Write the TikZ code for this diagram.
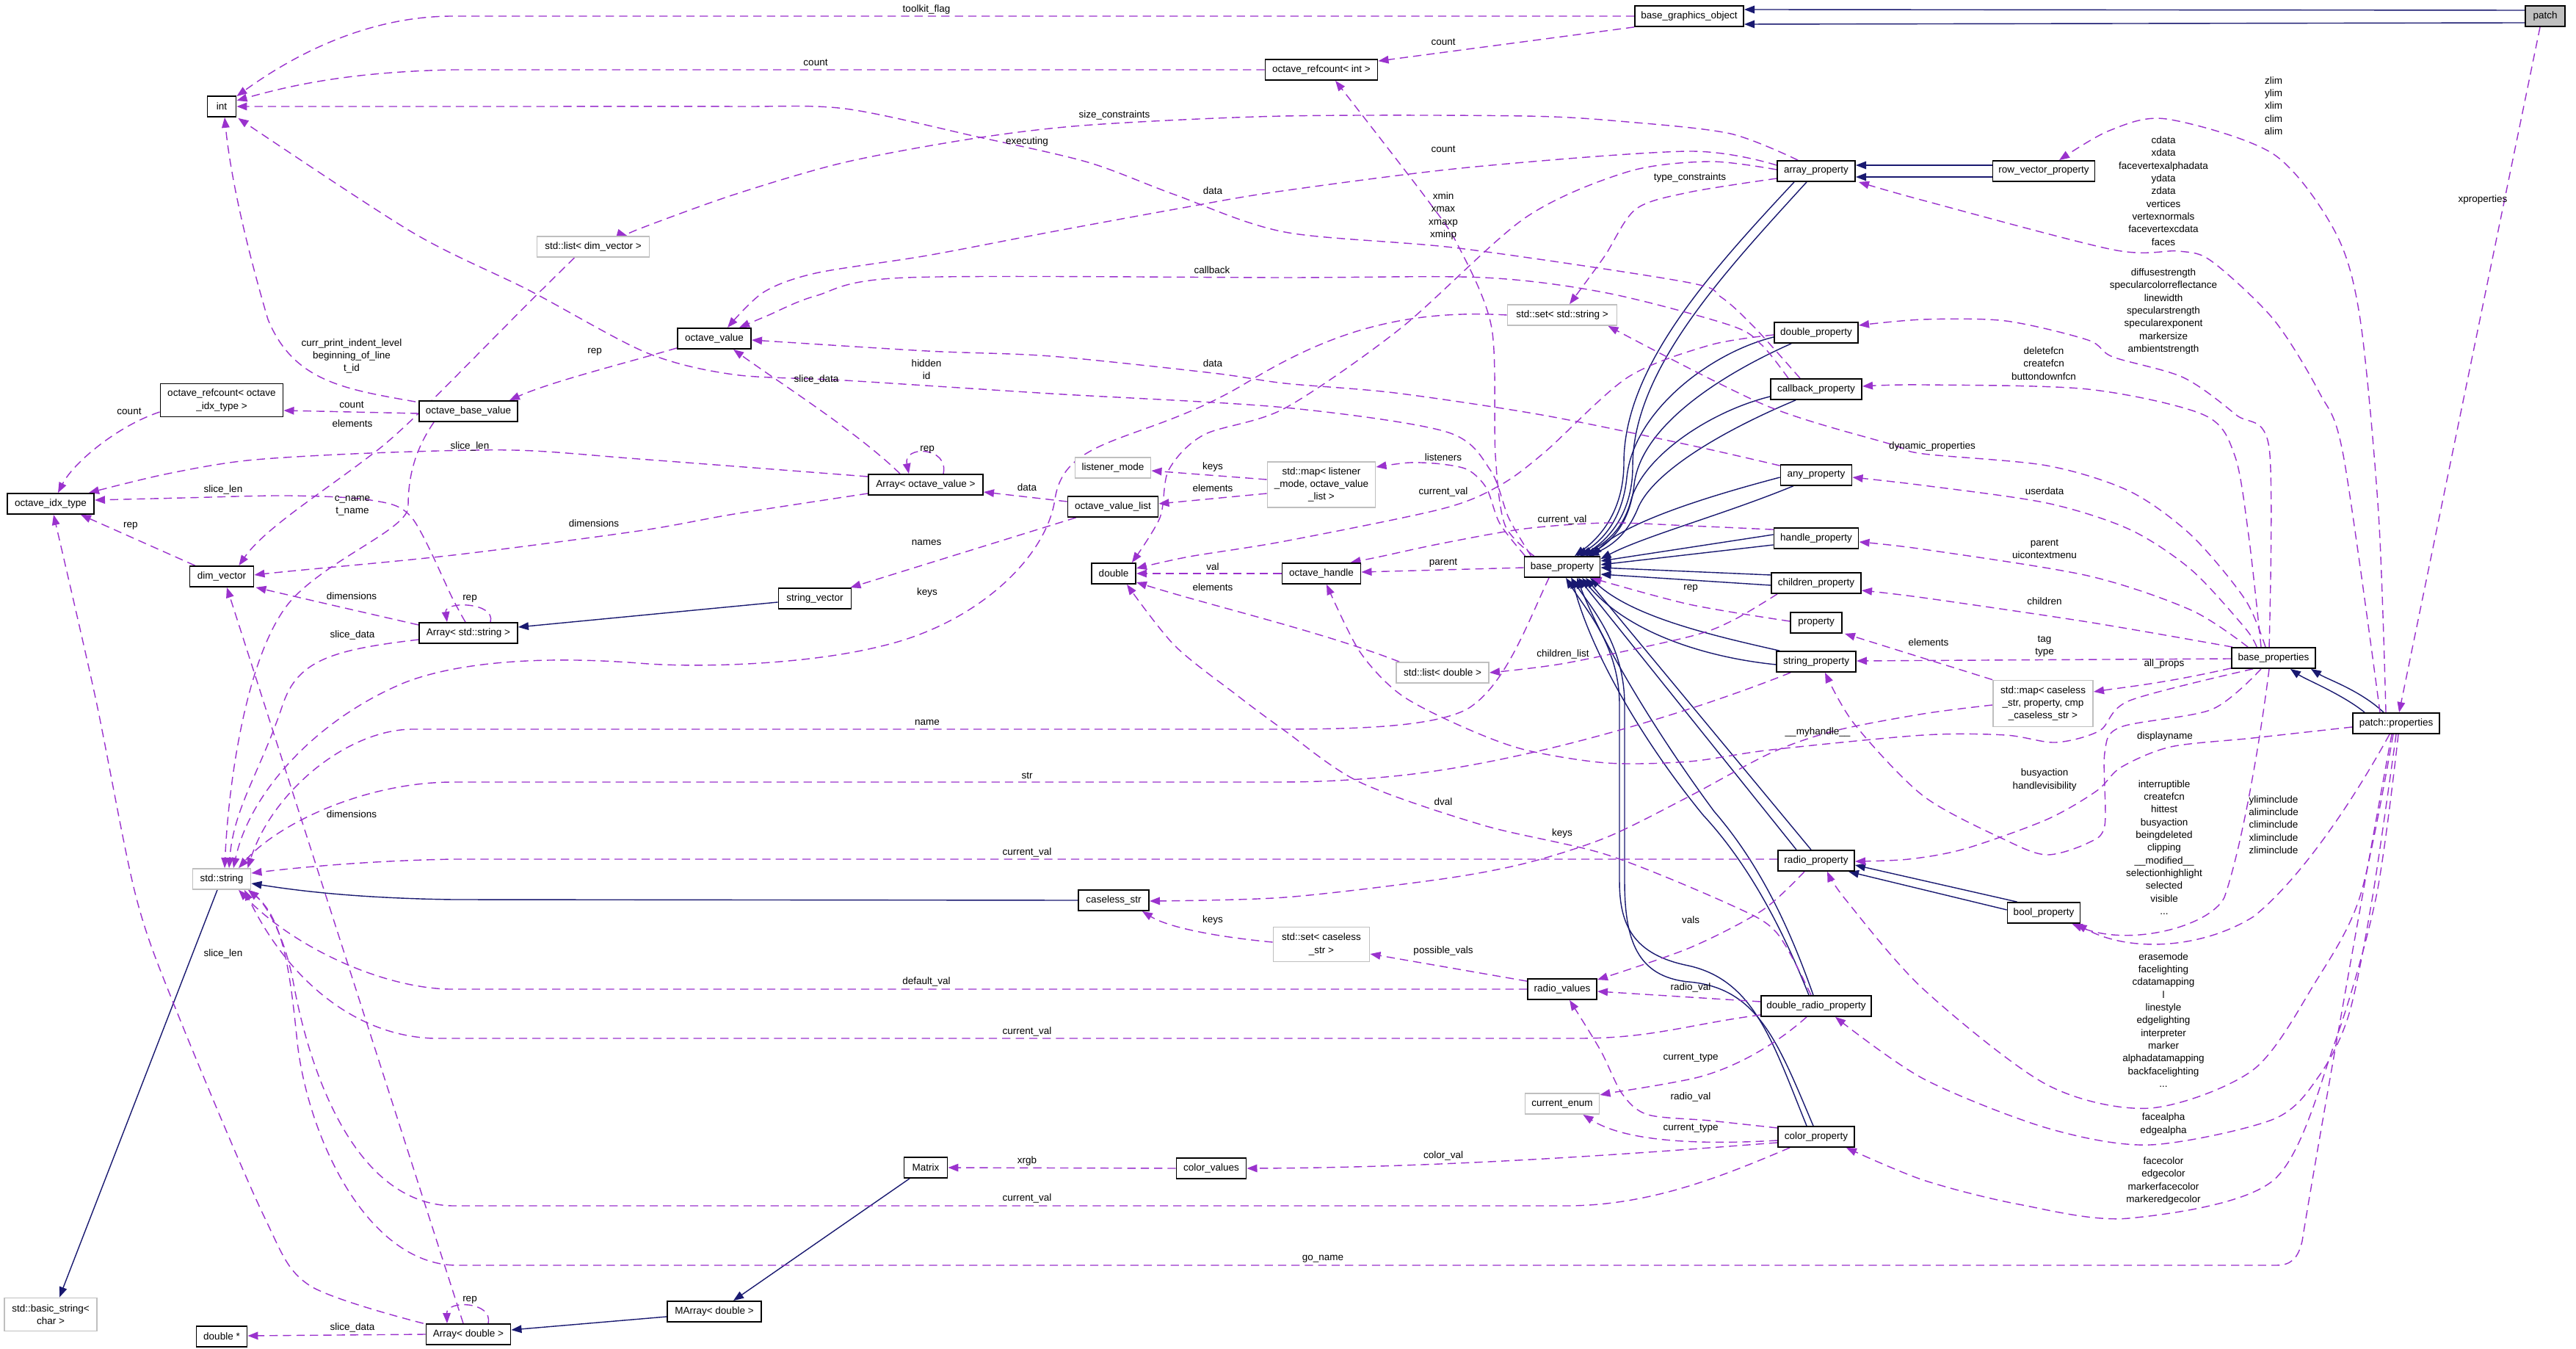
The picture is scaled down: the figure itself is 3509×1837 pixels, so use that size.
\documentclass[tikz,border=0pt]{standalone}
\usepackage{fontspec}
\setmainfont{Liberation Sans}
\usetikzlibrary{arrows.meta,calc}
\newcommand{\dfont}{\fontsize{3.84pt}{4.92pt}\selectfont}
\definecolor{purp}{HTML}{9A32CD}
\definecolor{navyb}{HTML}{191970}
\definecolor{extgray}{HTML}{BFBFBF}
\definecolor{patchgray}{HTML}{BFBFBF}
\pgfdeclarelayer{bg}
\pgfsetlayers{bg,main}
\tikzset{
  cls/.style={draw=black, line width=0.5pt, fill=white, inner sep=0pt, minimum height=0.28cm, align=center, font=\dfont},
  ext/.style={cls, draw=extgray},
  lab/.style={inner sep=0pt, align=center, font=\dfont},
  use/.style={draw=purp, line width=0.4pt, dash pattern=on 3.2pt off 2pt, -{Triangle[length=4pt,width=3pt]}},
  inh/.style={draw=navyb, line width=0.4pt, -{Triangle[length=4pt,width=3pt]}},
}
\begin{document}
\begin{tikzpicture}[x=0.01cm,y=-0.01cm]
\useasboundingbox (0,0) rectangle (3509,1837);
% ---------------- nodes ----------------
\node[cls,minimum width=1.48cm] (bgo) at (2301,22) {base\_graphics\_object};
\node[cls,fill=patchgray,minimum width=0.54cm] (patch) at (3467,22) {patch};
\node[cls,minimum width=1.53cm] (orint) at (1800,95) {octave\_refcount< int >};
\node[cls,minimum width=0.39cm] (int) at (302,145) {int};
\node[ext,minimum width=1.53cm] (ldv) at (808,336) {std::list< dim\_vector >};
\node[cls,minimum width=1.06cm] (arrp) at (2474,233) {array\_property};
\node[cls,minimum width=1.39cm] (rvp) at (2784,233) {row\_vector\_property};
\node[ext,minimum width=1.49cm] (ssstr) at (2128,429) {std::set< std::string >};
\node[cls,minimum width=1.14cm] (dblp) at (2474,453) {double\_property};
\node[cls,minimum width=1.24cm] (cbp) at (2474,530) {callback\_property};
\node[cls,minimum width=1.00cm] (ov) at (973,461) {octave\_value};
\node[cls,minimum width=1.67cm,minimum height=0.45cm] (orcidx) at (302,545) {octave\_refcount< octave\\\_idx\_type >};
\node[cls,minimum width=1.34cm] (obv) at (638,560) {octave\_base\_value};
\node[cls,minimum width=1.56cm] (aov) at (1261,660) {Array< octave\_value >};
\node[ext,minimum width=1.03cm] (lm) at (1516,637) {listener\_mode};
\node[cls,minimum width=1.23cm] (ovl) at (1516,690) {octave\_value\_list};
\node[ext,minimum width=1.47cm,minimum height=0.62cm] (smap1) at (1800,660) {std::map< listener\\\_mode, octave\_value\\\_list >};
\node[cls,minimum width=0.97cm] (anyp) at (2474,647) {any\_property};
\node[cls,minimum width=1.18cm] (idx) at (69,686) {octave\_idx\_type};
\node[cls,minimum width=1.15cm] (hp) at (2474,733) {handle\_property};
\node[cls,minimum width=0.87cm] (dim) at (302,785) {dim\_vector};
\node[cls,minimum width=0.60cm] (dbl) at (1517,781) {double};
\node[cls,minimum width=1.07cm] (oh) at (1800,781) {octave\_handle};
\node[cls,minimum width=1.03cm] (bp) at (2128,772) {base\_property};
\node[cls,minimum width=1.22cm] (chp) at (2474,794) {children\_property};
\node[cls,minimum width=0.99cm] (strv) at (1110,815) {string\_vector};
\node[cls,minimum width=0.70cm] (prop) at (2474,848) {property};
\node[cls,minimum width=1.34cm] (astr) at (638,862) {Array< std::string >};
\node[cls,minimum width=1.14cm] (bprops) at (3097,896) {base\_properties};
\node[cls,minimum width=1.08cm] (sp) at (2474,901) {string\_property};
\node[ext,minimum width=1.26cm] (ldbl) at (1965,916) {std::list< double >};
\node[ext,minimum width=1.36cm,minimum height=0.63cm] (smap2) at (2783,958) {std::map< caseless\\\_str, property, cmp\\\_caseless\_str >};
\node[cls,minimum width=1.18cm] (pp) at (3264,985) {patch::properties};
\node[cls,minimum width=1.04cm] (rp) at (2474,1172) {radio\_property};
\node[ext,minimum width=0.79cm] (str) at (302,1197) {std::string};
\node[cls,minimum width=0.96cm] (cstr) at (1517,1226) {caseless\_str};
\node[cls,minimum width=0.99cm] (bool) at (2784,1243) {bool\_property};
\node[ext,minimum width=1.31cm,minimum height=0.47cm] (sscs) at (1800,1286) {std::set< caseless\\\_str >};
\node[cls,minimum width=0.94cm] (rv) at (2128,1347) {radio\_values};
\node[cls,minimum width=1.50cm] (drp) at (2474,1370) {double\_radio\_property};
\node[ext,minimum width=1.01cm] (ce) at (2128,1503) {current\_enum};
\node[cls,minimum width=1.04cm] (cp) at (2474,1548) {color\_property};
\node[cls,minimum width=0.59cm] (mat) at (1261,1590) {Matrix};
\node[cls,minimum width=0.95cm] (cv) at (1650,1591) {color\_values};
\node[cls,minimum width=1.28cm] (marr) at (973,1786) {MArray< double >};
\node[ext,minimum width=1.26cm,minimum height=0.45cm] (bstr) at (69,1790) {std::basic\_string<\\char >};
\node[cls,minimum width=0.69cm] (dptr) at (302,1820) {double *};
\node[cls,minimum width=1.15cm] (adbl) at (638,1817) {Array< double >};
% ---------------- labels ----------------
\node[lab] (L1) at (1262,13) {toolkit\_flag};
\node[lab] (L2) at (1966,57) {count};
\node[lab] (L3) at (1111,85) {count};
\node[lab] (L4) at (1518,157) {size\_constraints};
\node[lab] (L5) at (1399,193) {executing};
\node[lab] (L6) at (1966,203) {count};
\node[lab] (L7) at (2302,242) {type\_constraints};
\node[lab] (L8) at (1652,260) {data};
\node[lab] (L9) at (1966,294) {xmin\\xmax\\xmaxp\\xminp};
\node[lab] (L10) at (3097,144) {zlim\\ylim\\xlim\\clim\\alim};
\node[lab] (L11) at (2947,260) {cdata\\xdata\\facevertexalphadata\\ydata\\zdata\\vertices\\vertexnormals\\facevertexcdata\\faces};
\node[lab] (L12) at (1651,368) {callback};
\node[lab] (L13) at (2947,424) {diffusestrength\\specularcolorreflectance\\linewidth\\specularstrength\\specularexponent\\markersize\\ambientstrength};
\node[lab] (L14) at (2784,495) {deletefcn\\createfcn\\buttondownfcn};
\node[lab] (L15) at (479,485) {curr\_print\_indent\_level\\beginning\_of\_line\\t\_id};
\node[lab] (L16) at (810,479) {rep};
\node[lab] (L17) at (1262,503) {hidden\\id};
\node[lab] (L18) at (1652,495) {data};
\node[lab] (L19) at (1112,517) {slice\_data};
\node[lab] (L20) at (479,551) {count};
\node[lab] (L21) at (176,560) {count};
\node[lab] (L22) at (480,577) {elements};
\node[lab] (L23) at (640,608) {slice\_len};
\node[lab] (L24) at (2632,608) {dynamic\_properties};
\node[lab] (L25) at (1263,612) {rep};
\node[lab] (L26) at (1966,623) {listeners};
\node[lab] (L27) at (1652,636) {keys};
\node[lab] (L28) at (1652,665) {elements};
\node[lab] (L29) at (1399,664) {data};
\node[lab] (L30) at (304,667) {slice\_len};
\node[lab] (L31) at (2785,669) {userdata};
\node[lab] (L32) at (1966,670) {current\_val};
\node[lab] (L33) at (480,689) {c\_name\\t\_name};
\node[lab] (L34) at (2128,708) {current\_val};
\node[lab] (L35) at (809,713) {dimensions};
\node[lab] (L36) at (178,716) {rep};
\node[lab] (L37) at (1262,739) {names};
\node[lab] (L38) at (2785,748) {parent\\uicontextmenu};
\node[lab] (L39) at (1966,767) {parent};
\node[lab] (L40) at (1652,772) {val};
\node[lab] (L41) at (1652,800) {elements};
\node[lab] (L42) at (2303,801) {rep};
\node[lab] (L43) at (1263,807) {keys};
\node[lab] (L44) at (479,812) {dimensions};
\node[lab] (L45) at (640,815) {rep};
\node[lab] (L46) at (2785,819) {children};
\node[lab] (L47) at (480,865) {slice\_data};
\node[lab] (L48) at (2627,875) {elements};
\node[lab] (L49) at (2785,880) {tag\\type};
\node[lab] (L50) at (2129,891) {children\_list};
\node[lab] (L51) at (2948,904) {all\_props};
\node[lab] (L52) at (1263,984) {name};
\node[lab] (L53) at (2476,997) {\_\_myhandle\_\_};
\node[lab] (L54) at (2949,1003) {displayname};
\node[lab] (L55) at (1399,1056) {str};
\node[lab] (L56) at (2785,1062) {busyaction\\handlevisibility};
\node[lab] (L57) at (1966,1092) {dval};
\node[lab] (L58) at (3097,1123) {yliminclude\\aliminclude\\climinclude\\xliminclude\\zliminclude};
\node[lab] (L59) at (479,1109) {dimensions};
\node[lab] (L60) at (2948,1154) {interruptible\\createfcn\\hittest\\busyaction\\beingdeleted\\clipping\\\_\_modified\_\_\\selectionhighlight\\selected\\visible\\...};
\node[lab] (L61) at (2128,1135) {keys};
\node[lab] (L62) at (1399,1161) {current\_val};
\node[lab] (L63) at (1652,1253) {keys};
\node[lab] (L64) at (2303,1253) {vals};
\node[lab] (L65) at (1966,1295) {possible\_vals};
\node[lab] (L66) at (304,1299) {slice\_len};
\node[lab] (L67) at (1262,1337) {default\_val};
\node[lab] (L68) at (2303,1345) {radio\_val};
\node[lab] (L69) at (2947,1389) {erasemode\\facelighting\\cdatamapping\\l\\linestyle\\edgelighting\\interpreter\\marker\\alphadatamapping\\backfacelighting\\...};
\node[lab] (L70) at (1399,1405) {current\_val};
\node[lab] (L71) at (2303,1441) {current\_type};
\node[lab] (L72) at (2303,1494) {radio\_val};
\node[lab] (L73) at (2947,1531) {facealpha\\edgealpha};
\node[lab] (L74) at (2303,1537) {current\_type};
\node[lab] (L75) at (1966,1574) {color\_val};
\node[lab] (L76) at (1399,1581) {xrgb};
\node[lab] (L77) at (2947,1608) {facecolor\\edgecolor\\markerfacecolor\\markeredgecolor};
\node[lab] (L78) at (1399,1632) {current\_val};
\node[lab] (L79) at (1802,1714) {go\_name};
\node[lab] (L80) at (640,1770) {rep};
\node[lab] (L81) at (480,1808) {slice\_data};
\node[lab] (L82) at (3382,272) {xproperties};
% ---------------- edges ----------------
\begin{pgfonlayer}{bg}
% inheritance
\draw[inh] ($(patch.west)+(0,-8)$) -- ($(bgo.east)+(0,-9)$);
\draw[inh] ($(patch.west)+(0,9)$) -- ($(bgo.east)+(0,11)$);
\draw[inh] ($(rvp.west)+(0,-8)$) -- ($(arrp.east)+(0,-8)$);
\draw[inh] ($(rvp.west)+(0,8)$) -- ($(arrp.east)+(0,8)$);
\draw[inh] ($(arrp.south)+(-30,0)$) .. controls (2330,370) and (2212,500) .. (2212,630) .. controls (2212,700) and (2175,735) .. ($(bp.north)+(17,0)$);
\draw[inh] ($(arrp.south)+(-13,0)$) .. controls (2345,375) and (2224,505) .. (2224,635) .. controls (2224,705) and (2185,738) .. ($(bp.north)+(27,0)$);
\draw[inh] ($(dblp.west)+(0,6)$) .. controls (2330,480) and (2225,560) .. (2216,650) .. controls (2210,710) and (2180,738) .. ($(bp.north)+(20,0)$);
\draw[inh] ($(dblp.south west)+(24,0)$) .. controls (2345,510) and (2235,580) .. (2226,660) .. controls (2220,715) and (2192,740) .. ($(bp.north)+(32,0)$);
\draw[inh] ($(cbp.west)+(0,10)$) .. controls (2330,560) and (2240,620) .. (2222,680) .. controls (2212,720) and (2188,740) .. ($(bp.north)+(24,0)$);
\draw[inh] ($(cbp.south west)+(35,0)$) .. controls (2350,585) and (2255,640) .. (2232,690) .. controls (2218,725) and (2198,742) .. ($(bp.north)+(36,0)$);
\draw[inh] ($(anyp.west)+(0,3)$) .. controls (2330,675) and (2215,710) .. ($(bp.north)+(40,0)$);
\draw[inh] ($(anyp.south west)+(18,0)$) .. controls (2350,700) and (2240,730) .. ($(bp.north east)+(0,4)$);
\draw[inh] ($(hp.west)+(0,-5)$) -- ($(bp.east)+(0,-8)$);
\draw[inh] ($(hp.west)+(0,9)$) -- ($(bp.east)+(0,-3)$);
\draw[inh] ($(chp.west)+(0,-11)$) -- ($(bp.east)+(0,1)$);
\draw[inh] ($(chp.west)+(0,3)$) -- ($(bp.east)+(0,10)$);
\draw[inh] ($(sp.north west)+(5,0)$) .. controls (2330,865) and (2225,840) .. ($(bp.south)+(38,0)$);
\draw[inh] ($(sp.west)+(0,4)$) .. controls (2320,895) and (2215,860) .. ($(bp.south)+(27,0)$);
\draw[inh] ($(rp.north)+(-27,0)$) -- ($(bp.south)+(22,0)$);
\draw[inh] ($(rp.north)+(-7,0)$) -- ($(bp.south)+(32,0)$);
\draw[inh] ($(drp.north)+(-10,0)$) .. controls (2430,1270) and (2385,1180) .. (2320,1110) .. controls (2230,1000) and (2165,880) .. ($(bp.south)+(13,0)$);
\draw[inh] ($(drp.north)+(-4,0)$) .. controls (2440,1270) and (2400,1180) .. (2335,1105) .. controls (2250,990) and (2180,870) .. ($(bp.south)+(20,0)$);
\draw[inh] ($(cp.north)+(-13,0)$) .. controls (2415,1420) and (2390,1335) .. (2300,1315) .. controls (2225,1300) and (2206,1260) .. (2206,1200) -- (2206,960) .. controls (2206,880) and (2160,830) .. ($(bp.south)+(5,0)$);
\draw[inh] ($(cp.north)+(-4,0)$) .. controls (2422,1420) and (2395,1345) .. (2300,1337) .. controls (2230,1330) and (2213,1280) .. (2213,1200) -- (2213,960) .. controls (2213,880) and (2170,830) .. ($(bp.south)+(12,0)$);
\draw[inh] ($(bool.north west)+(14,0)$) -- ($(rp.east)+(0,6)$);
\draw[inh] ($(bool.west)+(0,-4)$) -- ($(rp.south east)+(-9,0)$);
\draw[inh] ($(pp.north west)+(17,0)$) .. controls (3190,945) and (3140,925) .. ($(bprops.south east)+(-35,0)$);
\draw[inh] ($(pp.north)+(-17,0)$) .. controls (3215,940) and (3170,925) .. ($(bprops.south east)+(-7,0)$);
\draw[inh] ($(strv.west)+(0,5)$) -- ($(astr.east)+(0,-8)$);
\draw[inh] (cstr.west) -- (617,1225) .. controls (480,1223) and (400,1212) .. ($(str.east)+(0,6)$);
\draw[inh] ($(str.south)+(-6,0)$) -- ($(bstr.north)+(12,0)$);
\draw[inh] ($(marr.west)+(0,7)$) -- ($(adbl.east)+(0,-6)$);
\draw[inh] ($(mat.south)+(-22,0)$) -- ($(marr.north)+(26,0)$);
% usage
\draw[use] (bgo.west) -- (617,22) .. controls (500,22) and (400,75) .. ($(int.north east)+(0,1)$);
\draw[use] (bgo.south west) -- ($(orint.north east)+(0,3)$);
\draw[use] (orint.west) -- (617,95) .. controls (480,98) and (400,115) .. ($(int.east)+(0,-8)$);
\draw[use] plot[smooth] coordinates {($(cbp.north)+(-22,0)$) (2391,447) (2345,405) (2296,384) (1987,338) (1750,316) (1600,265) (1482,221) (1330,186) (1151,148) (1000,145) (700,145) (int.east)};
\draw[use] plot[smooth] coordinates {($(bp.north west)+(10,0)$) (2055,705) (2030,640) (1970,588) (1750,555) (1431,536) (1151,518) (999,510) (880,480) (720,395) (561,316) ($(int.south east)+(2,1)$)};
\draw[use] plot[smooth] coordinates {($(bp.north west)+(14,0)$) (2050,715) (2037,620) (2032,447) (1987,336) (1942,269) ($(orint.south)+(19,0)$)};
\draw[use] plot[smooth] coordinates {($(arrp.north west)+(29,0)$) (2357,182) (2217,166) (2077,158) (1750,158) (1487,170) (1330,188) (1151,221) (1000,265) (870,312) ($(ldv.north east)+(-31,0)$)};
\draw[use] plot[smooth] coordinates {($(arrp.west)+(0,-8)$) (2301,206) (2000,228) (1740,261) (1600,285) (1431,316) (1263,348) (1111,372) (1040,398) ($(ov.north)+(18,0)$)};
\draw[use] plot[smooth] coordinates {($(arrp.west)+(0,10)$) (2300,262) (2228,285) (2185,350) ($(ssstr.north)+(10,0)$)};
\draw[use] plot[smooth] coordinates {($(arrp.west)+(0,-2)$) (2329,220) (2217,234) (2077,297) (1908,447) (1750,556) (1640,592) (1592,640) (1580,705) ($(dbl.north east)+(-6,0)$)};
\draw[use] plot[smooth] coordinates {($(cbp.north)+(-38,0)$) (2400,470) (2357,443) (2189,399) (2021,378) (1750,378) (1235,378) (1111,403) (1045,430) ($(ov.north)+(34,0)$)};
\draw[use] plot[smooth] coordinates {($(anyp.north west)+(0,2)$) (2301,606) (2100,565) (1900,535) (1750,522) (1652,508) (1431,485) (1263,478) ($(ov.east)+(0,2)$)};
\draw[use] ($(aov.north)+(-35,0)$) .. controls (1170,590) and (1060,520) .. ($(ov.south)+(26,0)$);
\draw[use] ($(aov.north)+(24,0)$) .. controls (1293,608) and (1230,606) .. ($(aov.north)+(-23,0)$);
\draw[use] plot[smooth] coordinates {($(aov.west)+(0,-11)$) (870,625) (700,613) (505,617) (337,627) (224,646) ($(idx.north east)+(-8,0)$)};
\draw[use] plot[smooth] coordinates {($(aov.west)+(0,12)$) (1000,700) (870,723) (617,756) (393,778) ($(dim.east)+(0,-2)$)};
\draw[use] ($(ovl.west)+(0,-7)$) -- ($(aov.east)+(0,10)$);
\draw[use] ($(ovl.south west)+(12,0)$) -- ($(strv.north east)+(-2,0)$);
\draw[use] ($(smap1.west)+(0,-7)$) -- ($(lm.east)+(0,4)$);
\draw[use] ($(smap1.west)+(0,12)$) -- ($(ovl.east)+(0,-4)$);
\draw[use] plot[smooth] coordinates {($(bp.north west)+(2,0)$) (2043,713) (2025,665) (2000,640) (1964,632) (1920,630) ($(smap1.east)+(0,-24)$)};
\draw[use] plot[smooth] coordinates {($(dblp.west)+(0,3)$) (2329,470) (2217,514) (2105,615) (2043,661) (1964,693) (1750,737) (1620,758) ($(dbl.east)+(0,-7)$)};
\draw[use] plot[smooth] coordinates {($(hp.north west)+(0,3)$) (2301,716) (2189,712) (2077,720) (1964,740) (1880,758) ($(oh.north east)+(-15,0)$)};
\draw[use] ($(bp.west)+(0,1)$) -- ($(oh.east)+(0,-2)$);
\draw[use] (oh.west) -- (dbl.east);
\draw[use] ($(ldbl.north west)+(5,0)$) .. controls (1800,860) and (1650,825) .. ($(dbl.south east)+(0,-3)$);
\draw[use] plot[smooth] coordinates {($(chp.south west)+(9,0)$) (2360,845) (2301,867) (2133,903) (ldbl.east)};
\draw[use] plot[smooth] coordinates {($(prop.west)+(0,-2)$) (2301,823) ($(bp.south east)+(-13,0)$)};
\draw[use] (smap2.north west) -- ($(prop.south east)+(3,0)$);
\draw[use] plot[smooth] coordinates {($(smap2.west)+(0,2)$) (2620,972) (2500,995) (2413,1025) (2300,1085) (2189,1140) (2080,1175) (1964,1197) (1750,1222) ($(cstr.east)+(0,1)$)};
\draw[use] ($(sscs.west)+(0,-3)$) .. controls (1650,1275) and (1590,1262) .. ($(cstr.south east)+(-10,0)$);
\draw[use] ($(rv.north west)+(0,4)$) -- ($(sscs.east)+(0,13)$);
\draw[use] (rv.west) -- (612,1347) .. controls (520,1345) and (400,1290) .. ($(str.south)+(23,0)$);
\draw[use] ($(drp.west)+(0,12)$) .. controls (2300,1395) and (2250,1414) .. (2150,1414) -- (590,1414) .. controls (480,1410) and (390,1330) .. ($(str.south)+(31,0)$);
\draw[use] ($(rp.west)+(0,-2)$) -- (617,1170) .. controls (500,1172) and (400,1182) .. ($(str.east)+(0,-8)$);
\draw[use] ($(sp.south west)+(20,0)$) .. controls (2330,960) and (2100,1035) .. (1908,1056) .. controls (1850,1062) and (1800,1065) .. (1740,1065) -- (617,1065) .. controls (500,1065) and (380,1120) .. ($(str.north)+(23,0)$);
\draw[use] ($(bp.south)+(-18,0)$) .. controls (2080,850) and (2050,935) .. (1998,966) .. controls (1950,990) and (1850,993) .. (1740,993) -- (560,993) .. controls (470,995) and (370,1080) .. ($(str.north east)+(-5,0)$);
\draw[use] (ssstr.west) .. controls (1900,420) and (1800,460) .. (1700,520) .. controls (1560,605) and (1450,590) .. (1437,680) .. controls (1425,760) and (1330,850) .. (1200,880) .. controls (1100,905) and (950,910) .. (870,903) .. controls (700,890) and (600,910) .. (550,930) .. controls (430,980) and (340,1080) .. ($(str.north)+(16,0)$);
\draw[use] ($(obv.north west)+(-4,2)$) .. controls (470,530) and (400,520) .. (365,435) .. controls (340,350) and (315,250) .. ($(int.south)+(4,0)$);
\draw[use] ($(obv.west)+(0,3)$) -- ($(orcidx.east)+(0,14)$);
\draw[use] ($(obv.south west)+(21,0)$) .. controls (560,620) and (556,660) .. (556,690) .. controls (556,720) and (450,760) .. (398,816) .. controls (340,880) and (312,1050) .. ($(str.north)+(4,0)$);
\draw[use] plot[smooth] coordinates {($(astr.north)+(-4,0)$) (617,816) (561,705) (505,681) (393,675) (250,678) ($(idx.east)+(0,-5)$)};
\draw[use] ($(astr.west)+(0,-11)$) .. controls (500,835) and (400,812) .. ($(dim.south east)+(2,0)$);
\draw[use] ($(astr.west)+(0,9)$) .. controls (450,885) and (405,900) .. (385,960) .. controls (355,1050) and (318,1100) .. ($(str.north)+(10,0)$);
\draw[use] ($(astr.north)+(30,0)$) .. controls (676,820) and (605,818) .. ($(astr.north)+(-29,0)$);
\draw[use] ($(ldv.south west)+(52,0)$) .. controls (650,480) and (560,580) .. (505,620) .. controls (440,670) and (360,720) .. ($(dim.north east)+(-21,0)$);
\draw[use] ($(orcidx.west)+(0,16)$) .. controls (160,580) and (100,630) .. ($(idx.north)+(10,0)$);
\draw[use] ($(dim.north west)+(8,0)$) -- ($(idx.south east)+(-19,0)$);
\draw[use] ($(ov.south west)+(0,-2)$) .. controls (850,495) and (750,520) .. ($(obv.north east)+(-12,0)$);
\draw[use] plot[smooth] coordinates {($(adbl.north west)+(-3,0)$) (421,1750) (359,1655) (241,1378) (185,1220) (130,950) ($(idx.south)+(4,0)$)};
\draw[use] ($(adbl.north)+(-7,0)$) -- ($(dim.south)+(7,0)$);
\draw[use] (adbl.west) -- ($(dptr.east)+(0,-1)$);
\draw[use] ($(adbl.north)+(27,0)$) .. controls (672,1772) and (608,1770) .. ($(adbl.north)+(-29,0)$);
\draw[use] ($(cp.south west)+(17,0)$) .. controls (2350,1600) and (2250,1642) .. (2133,1642) -- (617,1642) .. controls (480,1640) and (420,1450) .. (400,1340) .. controls (385,1260) and (355,1225) .. ($(str.south east)+(-4,0)$);
\draw[use] ($(pp.south)+(-6,0)$) .. controls (3230,1150) and (3150,1600) .. (3136,1690) .. controls (3130,1715) and (3120,1723) .. (3100,1723) -- (620,1723) .. controls (500,1720) and (420,1550) .. (405,1420) .. controls (395,1320) and (385,1250) .. ($(str.south)+(36,0)$);
\draw[use] ($(cp.west)+(0,8)$) .. controls (2300,1565) and (2000,1590) .. (cv.east);
\draw[use] ($(cp.west)+(0,5)$) .. controls (2300,1560) and (2210,1552) .. ($(ce.south east)+(-23,0)$);
\draw[use] plot[smooth] coordinates {($(cp.west)+(0,-12)$) (2329,1526) (2245,1518) (2210,1490) (2180,1430) ($(rv.south)+(10,0)$)};
\draw[use] ($(drp.south)+(-13,0)$) .. controls (2410,1430) and (2350,1460) .. (2300,1470) .. controls (2250,1480) and (2200,1487) .. ($(ce.east)+(0,-12)$);
\draw[use] ($(drp.west)+(0,-6)$) -- ($(rv.east)+(0,3)$);
\draw[use] plot[smooth] coordinates {($(rp.south)+(-16,0)$) (2400,1240) (2301,1291) ($(rv.north east)+(0,2)$)};
\draw[use] plot[smooth] coordinates {($(drp.north)+(-7,0)$) (2420,1270) (2357,1232) (2189,1164) (2021,1124) (1852,1065) (1750,995) (1684,946) (1600,879) ($(dbl.south)+(18,0)$)};
\draw[use] (cv.west) -- (mat.east);
\draw[use] ($(patch.south)+(-7,0)$) -- ($(pp.north)+(4,0)$);
\draw[use] plot[smooth] coordinates {($(pp.north)+(-14,0)$) (3240,700) (3215,435) (3181,316) (3097,210) (2951,162) (2873,178) ($(rvp.north)+(21,0)$)};
\draw[use] plot[smooth] coordinates {($(pp.north)+(-22,0)$) (3192,620) (3159,534) (3097,435) (3013,356) (2968,342) (2878,340) (2620,273) ($(arrp.south east)+(4,0)$)};
\draw[use] plot[smooth] coordinates {($(bprops.north)+(-17,0)$) (3063,729) (3044,620) (3002,565) (2844,530) (2620,524) ($(cbp.east)+(0,-4)$)};
\draw[use] plot[smooth] coordinates {($(bprops.north)+(-6,0)$) (3091,610) (3046,565) (2974,514) (2878,486) (2844,463) (2732,437) (2620,435) ($(dblp.east)+(0,-10)$)};
\draw[use] plot[smooth] coordinates {($(bprops.north)+(-11,0)$) (3058,816) (2985,729) (2901,669) (2788,634) (2620,618) (2576,605) (2405,552) ($(ssstr.south east)+(-13,0)$)};
\draw[use] plot[smooth] coordinates {($(bprops.north west)+(35,0)$) (3058,855) (2985,776) (2901,721) (2788,685) (2620,661) ($(anyp.east)+(0,3)$)};
\draw[use] plot[smooth] coordinates {($(bprops.north west)+(23,0)$) (2985,831) (2844,784) (2620,748) ($(hp.east)+(0,5)$)};
\draw[use] plot[smooth] coordinates {($(bprops.north west)+(2,0)$) (2844,847) (2620,814) ($(chp.east)+(0,10)$)};
\draw[use] ($(bprops.west)+(0,1)$) -- ($(sp.east)+(0,-1)$);
\draw[use] ($(bprops.south west)+(0,-1)$) .. controls (2950,930) and (2900,935) .. ($(smap2.east)+(0,-16)$);
\draw[use] plot[smooth] coordinates {($(bprops.south)+(-28,0)$) (2901,954) (2860,995) (2800,1011) (2732,1001) (2620,1001) (2413,1021) (2301,1037) (2189,1039) (2077,1021) (1993,990) (1908,946) (1852,887) ($(oh.south)+(7,0)$)};
\draw[use] plot[smooth] coordinates {($(bprops.south)+(-17,0)$) (3013,966) (2889,990) (2867,1025) (2867,1124) (2844,1148) (2788,1164) (2732,1144) (2620,1084) (2526,986) ($(sp.south)+(12,0)$)};
\draw[use] plot[smooth] coordinates {($(pp.west)+(0,5)$) (3069,1005) (2957,1017) (2889,1045) (2856,1077) (2788,1116) (2676,1156) (2600,1170) ($(rp.east)+(0,1)$)};
\draw[use] ($(bprops.south)+(-6,0)$) .. controls (3080,1000) and (3055,1150) .. (3030,1222) .. controls (3010,1262) and (2900,1290) .. ($(bool.south east)+(-12,0)$);
\draw[use] ($(pp.south)+(-9,0)$) .. controls (3200,1100) and (3130,1200) .. (3070,1248) .. controls (3000,1292) and (2900,1298) .. ($(bool.south east)+(-6,0)$);
\draw[use] plot[smooth] coordinates {($(pp.south)+(-4,0)$) (3215,1220) (3153,1339) (3069,1457) (2929,1509) (2788,1477) (2620,1347) (2514,1225) ($(rp.south)+(15,0)$)};
\draw[use] plot[smooth] coordinates {(pp.south) (3232,1220) (3200,1380) (3159,1465) (3097,1524) (2929,1559) (2788,1536) (2620,1469) ($(drp.south)+(26,0)$)};
\draw[use] plot[smooth] coordinates {($(pp.south)+(3,0)$) (3237,1220) (3181,1418) (3097,1607) (2900,1659) (2750,1640) (2620,1607) ($(cp.south east)+(-12,0)$)};
\end{pgfonlayer}
\end{tikzpicture}
\end{document}
